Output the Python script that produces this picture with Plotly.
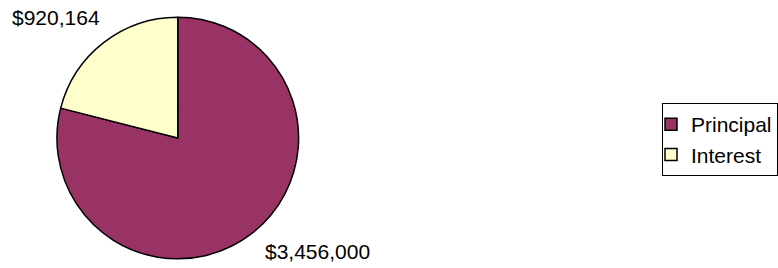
import plotly.graph_objects as go

labels = ["Principal", "Interest"]
values = [3456000, 920164]
colors = ["#993366", "#FFFFCC"]
# label anchor positions (paper coords) for the value annotations
label_pos = [(0.338, 0.062), (0.013, 0.933)]

W, H = 778, 268
FONT = "Liberation Sans, Arial"
fig = go.Figure(go.Pie(
    labels=labels, values=values, sort=False, direction="clockwise", rotation=0,
    marker=dict(colors=colors, line=dict(color="black", width=1.5)),
    textinfo="none", hoverinfo="label+value",
    domain=dict(x=[57 / W, 299 / W], y=[1 - 259 / H, 1 - 17 / H]),
))

for v, (px, py) in zip(values, label_pos):
    fig.add_annotation(x=px, y=py, xref="paper", yref="paper", text=f"${v:,}",
                       showarrow=False, xanchor="left", yanchor="middle",
                       font=dict(family=FONT, size=21, color="black"))

fig.update_layout(
    width=W, height=H, margin=dict(l=0, r=0, t=0, b=0),
    paper_bgcolor="white", plot_bgcolor="white",
    font=dict(family=FONT, size=21, color="black"),
    legend=dict(x=663 / W, y=1 - 103 / H, xanchor="left", yanchor="top",
                bordercolor="black", borderwidth=1, bgcolor="white",
                indentation=-12, font=dict(size=21)),
)
fig.write_html("out.html", config={"displayModeBar": False},
               post_script="document.body.style.margin='0';")
